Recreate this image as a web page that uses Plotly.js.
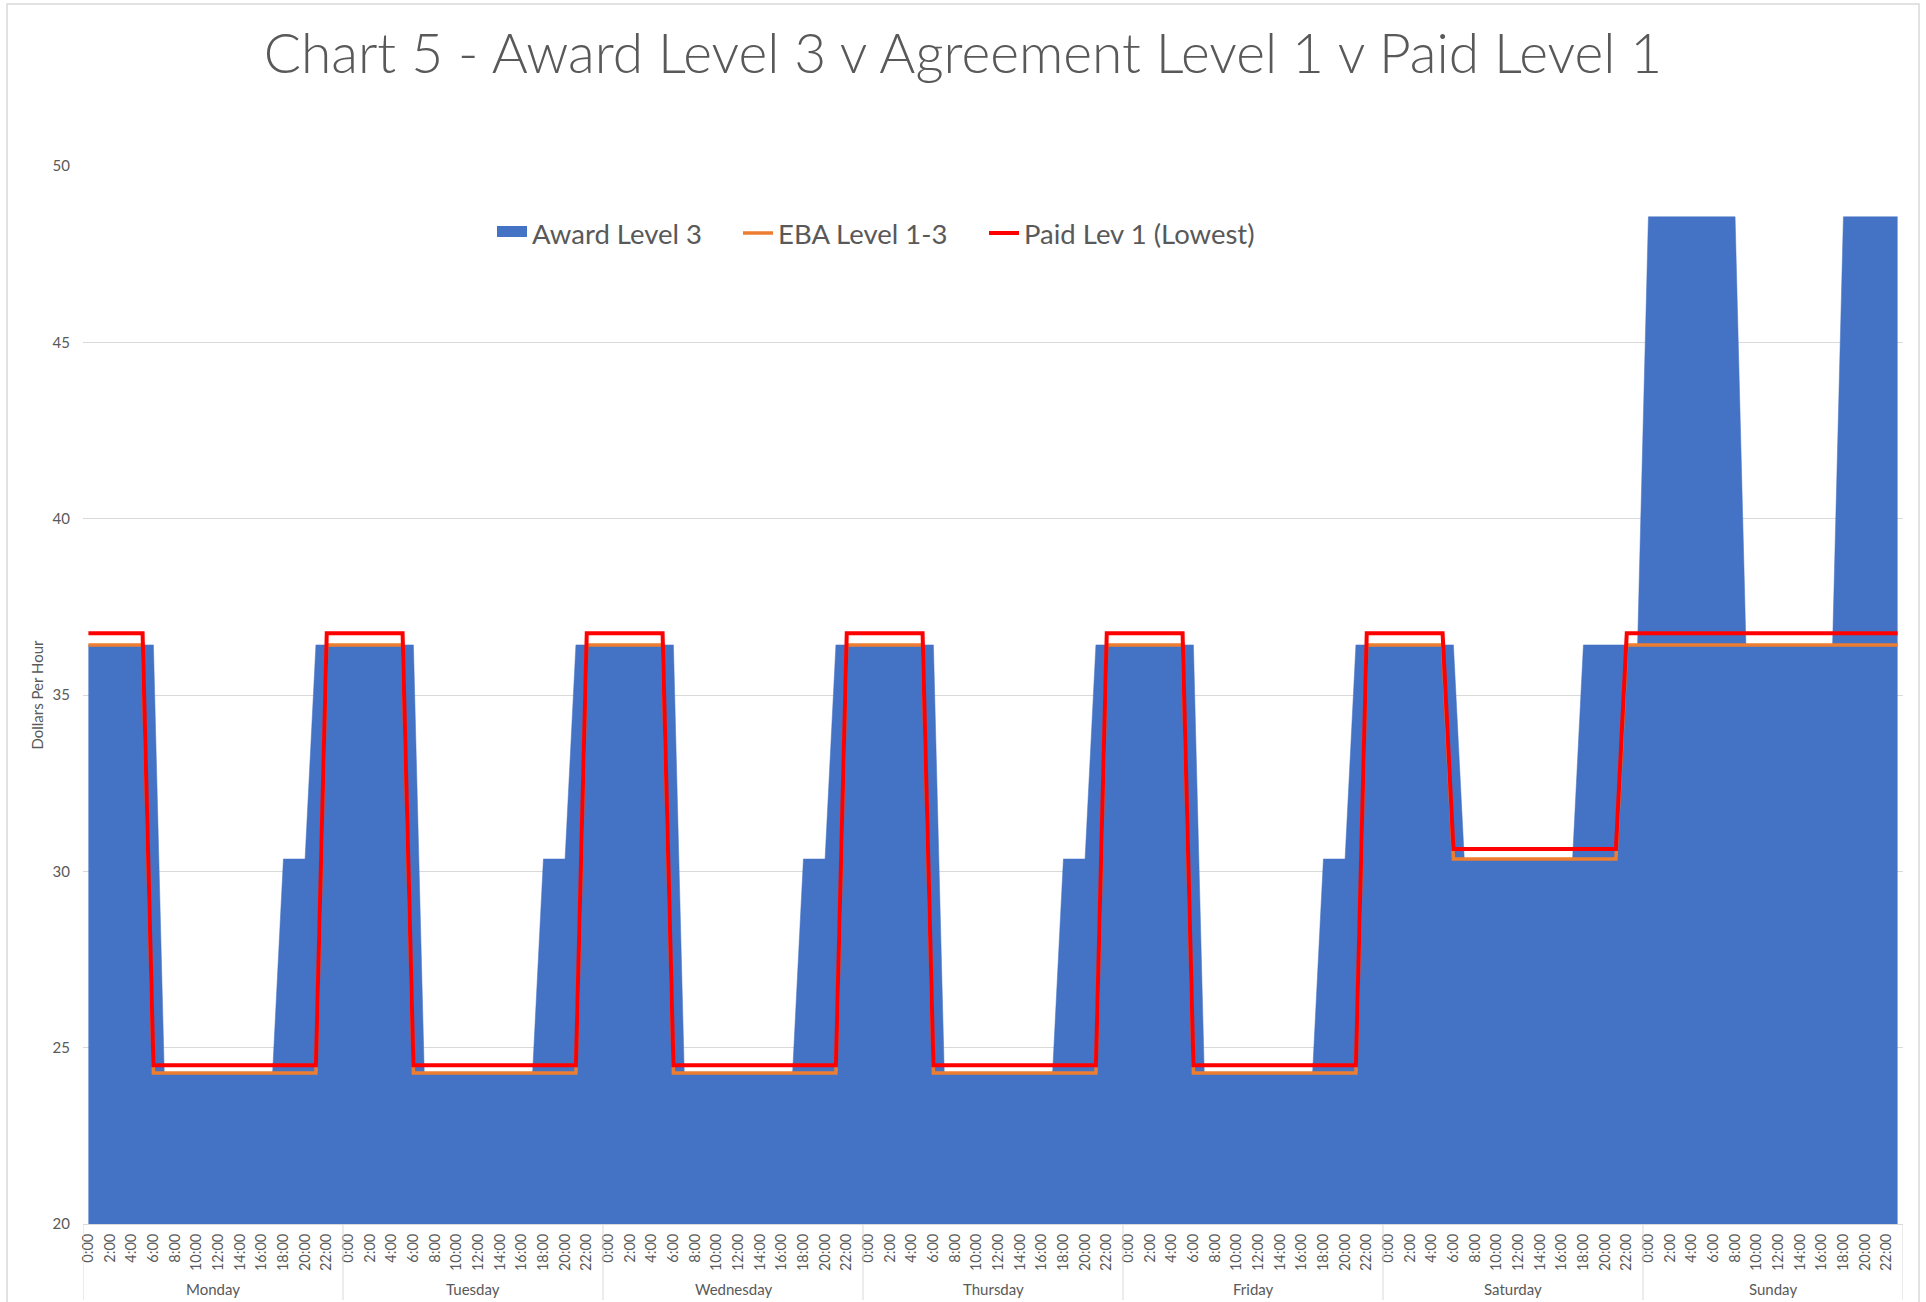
<!DOCTYPE html>
<html>
<head>
<meta charset="utf-8">
<script src="https://cdn.plot.ly/plotly-3.0.1.min.js"></script>
<style>
  html, body { margin: 0; padding: 0; background: #ffffff; }
  #chart { width: 1926px; height: 1302px; }
</style>
</head>
<body>
<div id="chart"></div>
<script>
// ---- Data ----
const days = ['Monday', 'Tuesday', 'Wednesday', 'Thursday', 'Friday', 'Saturday', 'Sunday'];
const hours = ['0:00','1:00','2:00','3:00','4:00','5:00','6:00','7:00','8:00','9:00','10:00','11:00',
               '12:00','13:00','14:00','15:00','16:00','17:00','18:00','19:00','20:00','21:00','22:00','23:00'];

// Award Level 3 ($/hour), hourly Monday 0:00 .. Sunday 23:00
const awardLevel3 = [
  // Monday
  36.42,36.42,36.42,36.42,36.42,36.42,36.42, 24.28,24.28,24.28,24.28,24.28,24.28,24.28,24.28,24.28,24.28,24.28, 30.35,30.35,30.35, 36.42,36.42,36.42,
  // Tuesday
  36.42,36.42,36.42,36.42,36.42,36.42,36.42, 24.28,24.28,24.28,24.28,24.28,24.28,24.28,24.28,24.28,24.28,24.28, 30.35,30.35,30.35, 36.42,36.42,36.42,
  // Wednesday
  36.42,36.42,36.42,36.42,36.42,36.42,36.42, 24.28,24.28,24.28,24.28,24.28,24.28,24.28,24.28,24.28,24.28,24.28, 30.35,30.35,30.35, 36.42,36.42,36.42,
  // Thursday
  36.42,36.42,36.42,36.42,36.42,36.42,36.42, 24.28,24.28,24.28,24.28,24.28,24.28,24.28,24.28,24.28,24.28,24.28, 30.35,30.35,30.35, 36.42,36.42,36.42,
  // Friday
  36.42,36.42,36.42,36.42,36.42,36.42,36.42, 24.28,24.28,24.28,24.28,24.28,24.28,24.28,24.28,24.28,24.28,24.28, 30.35,30.35,30.35, 36.42,36.42,36.42,
  // Saturday
  36.42,36.42,36.42,36.42,36.42,36.42,36.42, 30.35,30.35,30.35,30.35,30.35,30.35,30.35,30.35,30.35,30.35,30.35, 36.42,36.42,36.42,36.42,36.42,36.42,
  // Sunday
  48.56,48.56,48.56,48.56,48.56,48.56,48.56,48.56,48.56, 36.42,36.42,36.42,36.42,36.42,36.42,36.42,36.42,36.42, 48.56,48.56,48.56,48.56,48.56,48.56
];

// EBA Level 1-3 ($/hour)
const ebaLevel1to3 = [
  // Monday
  36.42,36.42,36.42,36.42,36.42,36.42, 24.28,24.28,24.28,24.28,24.28,24.28,24.28,24.28,24.28,24.28,24.28,24.28,24.28,24.28,24.28,24.28, 36.42,36.42,
  // Tuesday
  36.42,36.42,36.42,36.42,36.42,36.42, 24.28,24.28,24.28,24.28,24.28,24.28,24.28,24.28,24.28,24.28,24.28,24.28,24.28,24.28,24.28,24.28, 36.42,36.42,
  // Wednesday
  36.42,36.42,36.42,36.42,36.42,36.42, 24.28,24.28,24.28,24.28,24.28,24.28,24.28,24.28,24.28,24.28,24.28,24.28,24.28,24.28,24.28,24.28, 36.42,36.42,
  // Thursday
  36.42,36.42,36.42,36.42,36.42,36.42, 24.28,24.28,24.28,24.28,24.28,24.28,24.28,24.28,24.28,24.28,24.28,24.28,24.28,24.28,24.28,24.28, 36.42,36.42,
  // Friday
  36.42,36.42,36.42,36.42,36.42,36.42, 24.28,24.28,24.28,24.28,24.28,24.28,24.28,24.28,24.28,24.28,24.28,24.28,24.28,24.28,24.28,24.28, 36.42,36.42,
  // Saturday
  36.42,36.42,36.42,36.42,36.42,36.42, 30.35,30.35,30.35,30.35,30.35,30.35,30.35,30.35,30.35,30.35,30.35,30.35,30.35,30.35,30.35,30.35, 36.42,36.42,
  // Sunday
  36.42,36.42,36.42,36.42,36.42,36.42,36.42,36.42,36.42,36.42,36.42,36.42,36.42,36.42,36.42,36.42,36.42,36.42,36.42,36.42,36.42,36.42,36.42,36.42
];

// Paid Lev 1 (Lowest) ($/hour)
const paidLev1 = [
  // Monday
  36.75,36.75,36.75,36.75,36.75,36.75, 24.50,24.50,24.50,24.50,24.50,24.50,24.50,24.50,24.50,24.50,24.50,24.50,24.50,24.50,24.50,24.50, 36.75,36.75,
  // Tuesday
  36.75,36.75,36.75,36.75,36.75,36.75, 24.50,24.50,24.50,24.50,24.50,24.50,24.50,24.50,24.50,24.50,24.50,24.50,24.50,24.50,24.50,24.50, 36.75,36.75,
  // Wednesday
  36.75,36.75,36.75,36.75,36.75,36.75, 24.50,24.50,24.50,24.50,24.50,24.50,24.50,24.50,24.50,24.50,24.50,24.50,24.50,24.50,24.50,24.50, 36.75,36.75,
  // Thursday
  36.75,36.75,36.75,36.75,36.75,36.75, 24.50,24.50,24.50,24.50,24.50,24.50,24.50,24.50,24.50,24.50,24.50,24.50,24.50,24.50,24.50,24.50, 36.75,36.75,
  // Friday
  36.75,36.75,36.75,36.75,36.75,36.75, 24.50,24.50,24.50,24.50,24.50,24.50,24.50,24.50,24.50,24.50,24.50,24.50,24.50,24.50,24.50,24.50, 36.75,36.75,
  // Saturday
  36.75,36.75,36.75,36.75,36.75,36.75, 30.63,30.63,30.63,30.63,30.63,30.63,30.63,30.63,30.63,30.63,30.63,30.63,30.63,30.63,30.63,30.63, 36.75,36.75,
  // Sunday
  36.75,36.75,36.75,36.75,36.75,36.75,36.75,36.75,36.75,36.75,36.75,36.75,36.75,36.75,36.75,36.75,36.75,36.75,36.75,36.75,36.75,36.75,36.75,36.75
];

// ---- Build ----
const FONT = 'Lato, "Open Sans", sans-serif';
const GREY = '#595959';
const LINE = '#d9d9d9';

const nPts = days.length * hours.length;
const xIdx = [];
const hoverLabels = [];
for (let d = 0; d < days.length; d++) {
  for (let h = 0; h < hours.length; h++) {
    xIdx.push(d * hours.length + h);
    hoverLabels.push(days[d] + ' ' + hours[h]);
  }
}
const tickVals = [], tickText = [];
for (let i = 0; i < nPts; i += 2) { tickVals.push(i); tickText.push(hours[i % hours.length]); }

const traces = [
  {
    type: 'scatter', mode: 'lines', name: 'Award Level 3',
    x: xIdx, y: awardLevel3, text: hoverLabels,
    fill: 'tozeroy', fillcolor: '#4472C4',
    line: { color: '#4472C4', width: 0.5 },
    showlegend: false, legendgroup: 'award'
  },
  {
    // legend entry for the area (filled swatch like the original)
    type: 'scatter', mode: 'lines', name: 'Award Level 3',
    x: [null], y: [null], legendgroup: 'award',
    fill: 'toself', fillcolor: '#4472C4',
    line: { color: '#4472C4', width: 16 }
  },
  {
    type: 'scatter', mode: 'lines', name: 'EBA Level 1-3',
    x: xIdx, y: ebaLevel1to3, text: hoverLabels,
    line: { color: '#ED7D31', width: 3.5 }
  },
  {
    type: 'scatter', mode: 'lines', name: 'Paid Lev 1 (Lowest)',
    x: xIdx, y: paidLev1, text: hoverLabels,
    legendwidth: 260,
    line: { color: '#FF0000', width: 4 }
  }
];

// plot area geometry (px)
const W = 1926, H = 1302;
const L = 83, R = 23, T = 166, B = 78;
const PW = W - L - R, PH = H - T - B;
const px2paperX = p => (p - L) / PW;
const px2paperY = p => (H - B - p) / PH;

const shapes = [];
for (let d = 0; d <= days.length; d++) {
  shapes.push({
    type: 'line', xref: 'x', yref: 'paper',
    x0: d * hours.length - 0.5, x1: d * hours.length - 0.5,
    y0: 0, y1: px2paperY(1300),
    line: { color: LINE, width: 1 }
  });
}
// outer chart border
shapes.push({
  type: 'rect', xref: 'paper', yref: 'paper',
  x0: px2paperX(7), x1: px2paperX(1919), y0: px2paperY(1320), y1: px2paperY(4),
  line: { color: LINE, width: 1.5 }, fillcolor: 'rgba(0,0,0,0)', layer: 'below'
});

const annotations = days.map((dname, d) => ({
  x: d * hours.length + (hours.length - 1) / 2, xref: 'x',
  y: px2paperY(1289), yref: 'paper',
  text: dname, showarrow: false, xanchor: 'center', yanchor: 'middle',
  font: { family: FONT, size: 15, color: GREY }
}));

const layout = {
  width: W, height: H,
  margin: { l: L, r: R, t: T, b: B, pad: 0 },
  paper_bgcolor: '#ffffff', plot_bgcolor: '#ffffff',
  font: { family: FONT, color: GREY },
  title: {
    text: 'Chart 5 - Award Level 3 v Agreement Level 1 v Paid Level 1',
    font: { family: FONT, size: 55.1, color: GREY, weight: 300 },
    xref: 'container', x: 0.5, xanchor: 'center',
    yref: 'container', y: 1 - 54 / H, yanchor: 'middle'
  },
  showlegend: true,
  legend: {
    orientation: 'h', xref: 'paper', yref: 'paper',
    x: px2paperX(492), xanchor: 'left', y: px2paperY(233), yanchor: 'middle',
    font: { family: FONT, size: 27.5, color: GREY },
    bgcolor: 'rgba(0,0,0,0)', borderwidth: 0,
    entrywidth: 201, entrywidthmode: 'pixels',
    traceorder: 'normal'
  },
  xaxis: {
    range: [-0.5, nPts - 0.5], type: 'linear',
    tickmode: 'array', tickvals: tickVals, ticktext: tickText,
    tickangle: -90, tickfont: { family: FONT, size: 14.5, color: GREY },
    ticks: '', ticklabelstandoff: 3, showgrid: false, zeroline: false,
    showline: true, linecolor: LINE, linewidth: 1,
    fixedrange: true
  },
  yaxis: {
    range: [20, 50], dtick: 5, tick0: 20,
    tickfont: { family: FONT, size: 15, color: GREY },
    ticks: '', ticklabelstandoff: 12,
    showgrid: true, gridcolor: LINE, gridwidth: 1,
    zeroline: false, showline: false,
    title: { text: 'Dollars Per Hour', font: { family: FONT, size: 15, color: GREY }, standoff: 5 },
    fixedrange: true
  },
  shapes: shapes,
  annotations: annotations,
  hovermode: false
};

Plotly.newPlot('chart', traces, layout, { displayModeBar: false, staticPlot: true });
</script>
</body>
</html>
